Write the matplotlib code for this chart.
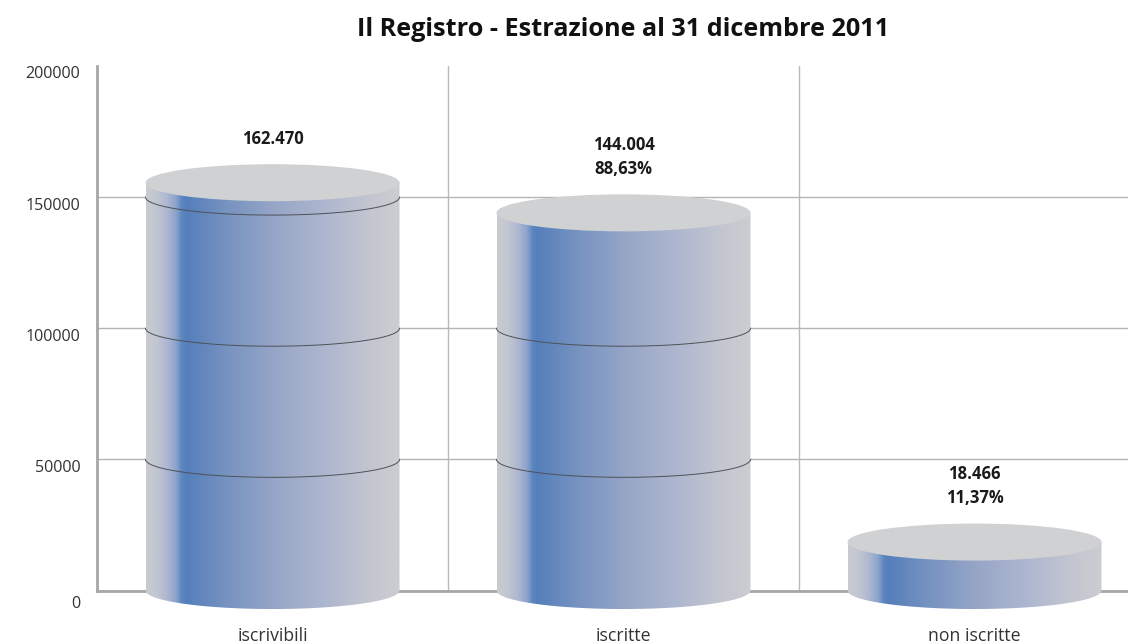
import numpy as np
import matplotlib
matplotlib.use("Agg")
import matplotlib.pyplot as plt
from matplotlib.patches import Ellipse, PathPatch
from matplotlib.path import Path
from matplotlib.colors import LinearSegmentedColormap
from matplotlib.transforms import ScaledTranslation

plt.rcParams['font.family'] = ['Open Sans', 'DejaVu Sans']

# data
categories = ["iscrivibili", "iscritte", "non iscritte"]
# heights as drawn in the picture (the first one sits lower than its label says)
drawn_values = [155500, 144004, 18466]
value_labels = ["162.470", "144.004\n88,63%", "18.466\n11,37%"]
y_ticks = [0, 50000, 100000, 150000, 200000]
grid_values = [50000, 100000, 150000]

W, H = 1128, 643
fig = plt.figure(figsize=(W / 100, H / 100), dpi=100)
left, right, top, bottom = 97, 1128, 66, 590.5
ax = fig.add_axes([left / W, 1 - bottom / H, (right - left) / W, (bottom - top) / H])

xlim = (-0.5, (right - left) / 351 - 0.5)
ylim = (0, 200000)

half_w = 127 / 351
half_h = 18.5 / 131 * 50000

ramp = LinearSegmentedColormap.from_list("cyl", [
    (0.0, "#c9cbcf"), (0.04, "#c2c6d1"), (0.08, "#afb8d1"), (0.115, "#8ea4cb"), (0.14, "#5a85c0"),
    (0.16, "#557fbb"), (0.30, "#7391c0"), (0.50, "#96a5c7"), (0.70, "#adb6cf"),
    (0.88, "#c3c6d0"), (1.0, "#cbcdd0"),
])
grad = np.linspace(0, 1, 256).reshape(1, -1)

t = np.linspace(np.pi, 2 * np.pi, 80)

for g in grid_values:
    ax.axhline(g, color="#b4b4b4", lw=1, zorder=1)
for x in [0.5, 1.5]:
    ax.axvline(x, color="#b9b9b9", lw=1, zorder=1)

for i, val in enumerate(drawn_values):
    xs = i + half_w * np.cos(t)
    ys = half_h * np.sin(t)
    outline = np.column_stack([np.r_[xs, i + half_w, i - half_w], np.r_[ys, val, val]])
    body = PathPatch(Path(np.vstack([outline, outline[0]]), closed=True), fc="none", ec="none",
                     transform=ax.transData, zorder=3)
    ax.add_patch(body)
    body.set_clip_on(False)
    im = ax.imshow(grad, cmap=ramp, aspect="auto", zorder=3,
                   extent=(i - half_w, i + half_w, -half_h, val))
    im.set_clip_path(body)
    im.set_clip_box(fig.bbox)

    # ring lines on the front of the cylinder
    for g in grid_values:
        if g < val:
            ax.plot(xs, g + ys * 0.97, color="#4d5159", lw=0.7, zorder=4, clip_on=False)

    ax.add_patch(Ellipse((i, val), 2 * half_w, 2 * half_h, fc="#d0d1d3", ec="none",
                         zorder=5, clip_on=False))

    ax.annotate(value_labels[i], xy=(i, val), xytext=(0, 25), textcoords="offset points",
                ha="center", va="bottom", fontsize=12, fontweight="bold", color="#1a1a1a",
                linespacing=1.42, zorder=6, family=["Open Sans", "DejaVu Sans"])

ax.set_xlim(xlim)
ax.set_ylim(ylim)

ax.set_xticks(range(len(categories)))
ax.set_xticklabels(categories, fontsize=12.7, color="#333333")
ax.tick_params(axis="x", length=0, pad=26)
ax.set_yticks(y_ticks)
ax.set_yticklabels([str(v) for v in y_ticks], fontsize=11.6, color="#333333")
ax.tick_params(axis="y", length=0, pad=12)
for v, lab in zip(y_ticks, ax.get_yticklabels()):
    shift = -12 if v == 0 else -6.5
    lab.set_transform(lab.get_transform() + ScaledTranslation(0, shift / 100, fig.dpi_scale_trans))

for s in ["top", "right"]:
    ax.spines[s].set_visible(False)
ax.spines["left"].set_color("#a6a6a6")
ax.spines["left"].set_linewidth(2)
ax.spines["bottom"].set_color("#a6a6a6")
ax.spines["bottom"].set_linewidth(2)

fig.text(623 / W, 1 - 29 / H, "Il Registro - Estrazione al 31 dicembre 2011", ha="center", va="center",
         fontsize=18.2, fontweight="bold", color="#111111")

fig.savefig("out.png", dpi=100, facecolor="white")
